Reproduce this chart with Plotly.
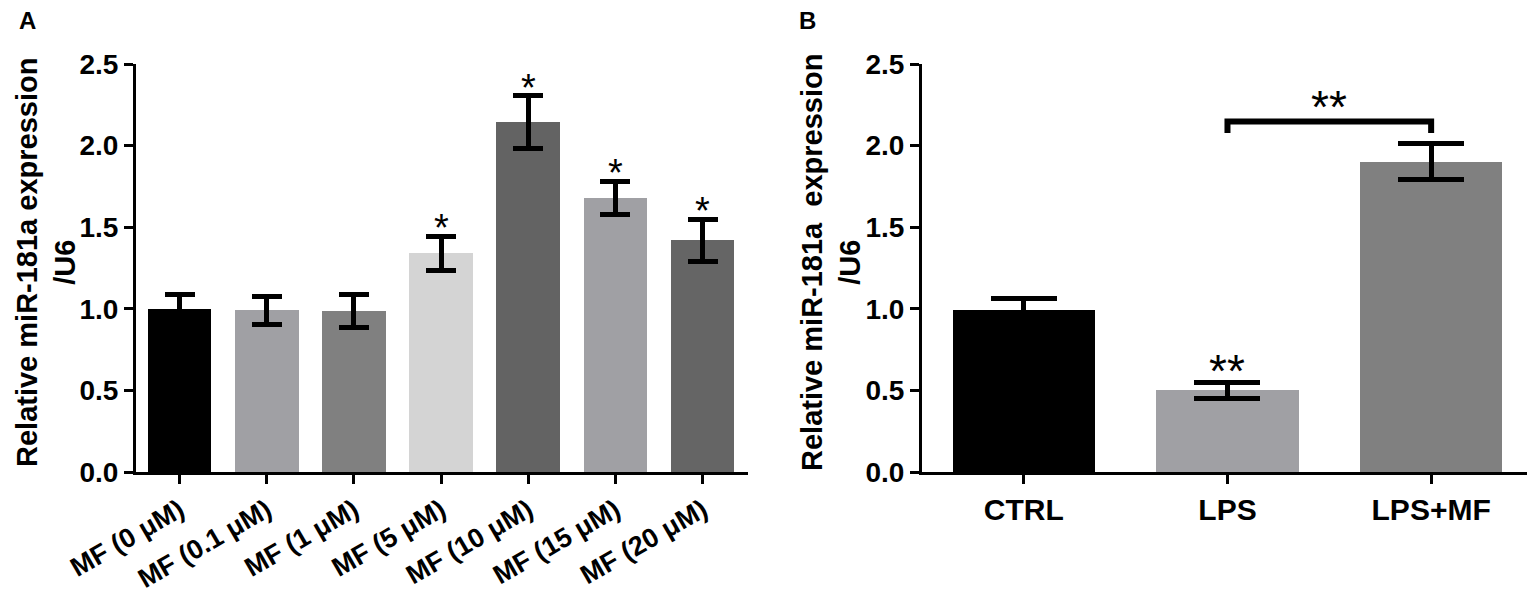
import plotly.graph_objects as go

# Panel A: dose response
a_labels = ["MF (0 μM)", "MF (0.1 μM)", "MF (1 μM)", "MF (5 μM)",
            "MF (10 μM)", "MF (15 μM)", "MF (20 μM)"]
a_means = [1.00, 0.99, 0.985, 1.34, 2.145, 1.68, 1.42]
a_errs = [0.09, 0.085, 0.10, 0.105, 0.16, 0.10, 0.13]
a_colors = ["#000000", "#a0a0a4", "#808080", "#d4d4d4",
            "#636363", "#a0a0a4", "#656565"]
a_sig = ["", "", "", "*", "*", "*", "*"]

# Panel B: LPS treatment
b_labels = ["CTRL", "LPS", "LPS+MF"]
b_means = [0.99, 0.50, 1.90]
b_errs = [0.075, 0.05, 0.11]
b_colors = ["#000000", "#a0a0a4", "#808080"]
b_sig = ["", "**", ""]
bracket_y = [2.077, 2.148, 2.148, 2.077]

yticks = [0.0, 0.5, 1.0, 1.5, 2.0, 2.5]

FONT = "Liberation Sans, Arial, sans-serif"
# the page body has an 8px margin, so the figure is drawn 8px in from the corner
OFF = 8
W, H = 1535 - OFF, 595 - OFF


def px(x):
    return (x - OFF) / W


def py(y):
    return 1 - (y - OFF) / H


fig = go.Figure()

fig.add_trace(go.Bar(
    x=a_labels, y=a_means, marker=dict(color=a_colors, line=dict(width=0)),
    width=0.73,
    error_y=dict(type="data", array=a_errs, color="black", thickness=5, width=15),
    xaxis="x", yaxis="y", showlegend=False,
))
fig.add_trace(go.Bar(
    x=b_labels, y=b_means, marker=dict(color=b_colors, line=dict(width=0)),
    width=0.70,
    error_y=dict(type="data", array=b_errs, color="black", thickness=5, width=33),
    xaxis="x2", yaxis="y2", showlegend=False,
))
# significance bracket LPS vs LPS+MF
fig.add_trace(go.Scatter(
    x=[b_labels[1], b_labels[1], b_labels[2], b_labels[2]], y=bracket_y,
    mode="lines", line=dict(color="black", width=6),
    xaxis="x2", yaxis="y2", showlegend=False, hoverinfo="skip",
))

ydom = [py(472), py(64)]
axis_common = dict(
    showgrid=False, zeroline=False, showline=True, linecolor="black", linewidth=3,
    ticks="outside", ticklen=9, tickwidth=3, tickcolor="black", automargin=False,
)
fig.update_layout(
    width=W, height=H,
    margin=dict(l=0, r=0, t=0, b=0),
    paper_bgcolor="white", plot_bgcolor="white",
    font=dict(family=FONT, color="black"),
    bargap=0,
    xaxis=dict(domain=[px(136), px(748)], range=[-0.5, 6.52], tickangle=-30,
               tickfont=dict(size=27, family=FONT, weight="bold"), **axis_common),
    yaxis=dict(domain=ydom, range=[0, 2.5], tickvals=yticks,
               ticktext=[f"{v:.1f}" for v in yticks],
               tickfont=dict(size=28, family=FONT, weight="bold"), **axis_common),
    xaxis2=dict(domain=[px(922), 1.0], range=[-0.5, 2.51],
                tickfont=dict(size=30, family=FONT, weight="bold"), anchor="y2",
                **axis_common),
    yaxis2=dict(domain=ydom, range=[0, 2.5], tickvals=yticks,
                ticktext=[f"{v:.1f}" for v in yticks], anchor="x2",
                tickfont=dict(size=28, family=FONT, weight="bold"), **axis_common),
)

ann = []
for lab, m, e, s in zip(a_labels, a_means, a_errs, a_sig):
    if s:
        ann.append(dict(x=lab, y=m + e + 0.05, xref="x", yref="y", text=s,
                        showarrow=False, yanchor="middle",
                        font=dict(size=38, family=FONT)))
for lab, m, e, s in zip(b_labels, b_means, b_errs, b_sig):
    if s:
        ann.append(dict(x=lab, y=m + e + 0.07, xref="x2", yref="y2", text=s,
                        showarrow=False, yanchor="middle",
                        font=dict(size=46, family=FONT)))
ann.append(dict(x=1.5, y=bracket_y[1] + 0.09, xref="x2", yref="y2", text="**",
                showarrow=False, yanchor="middle", font=dict(size=46, family=FONT)))

# y axis titles
ann.append(dict(x=px(46), y=py(263), xref="paper", yref="paper",
                xanchor="center", yanchor="middle",
                text="<b>Relative miR-181a expression<br>/U6</b>", textangle=-90,
                showarrow=False, font=dict(size=29, family=FONT)))
ann.append(dict(x=px(831), y=py(263), xref="paper", yref="paper",
                xanchor="center", yanchor="middle",
                text="<b>Relative miR-181a&nbsp; expression<br>/U6</b>", textangle=-90,
                showarrow=False, font=dict(size=29, family=FONT)))
# panel letters
ann.append(dict(x=px(27), y=py(20), xref="paper", yref="paper", text="<b>A</b>",
                xanchor="center", yanchor="middle",
                showarrow=False, font=dict(size=24, family=FONT)))
ann.append(dict(x=px(807), y=py(20), xref="paper", yref="paper", text="<b>B</b>",
                xanchor="center", yanchor="middle",
                showarrow=False, font=dict(size=24, family=FONT)))
fig.update_layout(annotations=ann)

fig.write_html("out.html")
